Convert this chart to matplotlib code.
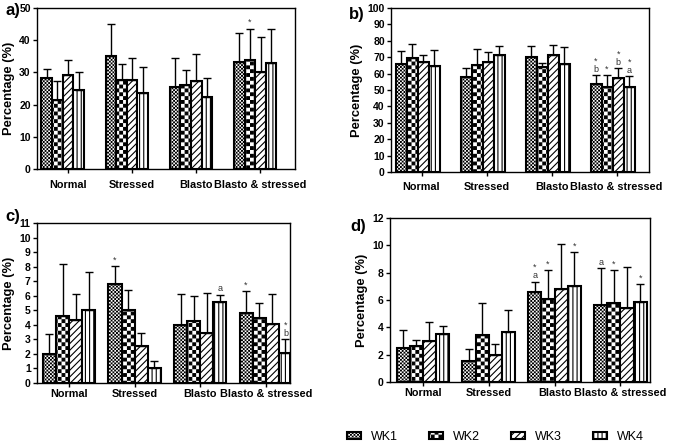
import numpy as np
import matplotlib
matplotlib.use('Agg')
import matplotlib.pyplot as plt
import matplotlib.hatch as mhatch
from matplotlib.path import Path

plt.rcParams['font.family'] = ['Liberation Sans', 'DejaVu Sans']
plt.rcParams['hatch.linewidth'] = 0.8

groups = ['Normal', 'Stressed', 'Blasto', 'Blasto & stressed']
weeks = ['WK1', 'WK2', 'WK3', 'WK4']
hatches = ['.', 'O', '/////', '||||']

# means / SD per group (rows) and week (cols)
a_mean = [[28.2, 21.5, 29.3, 24.6], [35.2, 27.7, 27.7, 23.5], [25.5, 26.2, 27.2, 22.3], [33.2, 34.0, 30.0, 32.9]]
a_sd = [[2.8, 5.7, 4.4, 5.6], [9.9, 4.9, 6.9, 8.3], [9.1, 4.4, 8.5, 6.1], [8.9, 9.6, 10.9, 10.7]]
a_marks = [['', '', '', ''], ['', '', '', ''], ['', '', '', ''], ['', '*', '', '']]

b_mean = [[65.9, 69.8, 67.1, 64.7], [58.2, 65.3, 67.1, 71.2], [70.0, 64.3, 71.4, 65.7], [53.7, 51.6, 57.1, 51.6]]
b_sd = [[8.0, 8.2, 4.3, 9.8], [5.5, 9.6, 5.8, 5.9], [6.9, 2.4, 6.1, 10.4], [5.5, 7.6, 6.2, 7.0]]
b_marks = [['', '', '', ''], ['', '', '', ''], ['', '', '', ''], ['*\nb', '*', '*\nb', '*\na']]

c_mean = [[2.0, 4.63, 4.3, 5.0], [6.8, 5.0, 2.53, 1.03], [4.0, 4.25, 3.45, 5.55], [4.8, 4.5, 4.06, 2.03]]
c_sd = [[1.4, 3.57, 1.8, 2.6], [1.26, 1.4, 0.94, 0.47], [2.1, 1.75, 2.75, 0.52], [1.5, 1.0, 2.04, 0.97]]
c_marks = [['', '', '', ''], ['*', '', '', ''], ['', '', '', 'a'], ['*', '', '', '*\nb']]

d_mean = [[2.5, 2.6, 3.0, 3.5], [1.52, 3.43, 2.0, 3.63], [6.62, 6.06, 6.82, 7.04], [5.62, 5.81, 5.4, 5.88]]
d_sd = [[1.3, 0.46, 1.36, 0.6], [0.93, 2.37, 0.75, 1.67], [0.73, 2.15, 3.28, 2.47], [2.69, 2.4, 2.98, 1.28]]
d_marks = [['', '', '', ''], ['', '', '', ''], ['*\na', '*', '', '*'], ['a', '*', '', '*']]


# checkerboard hatches ('.' fine, 'O' coarse) in place of the dotted/circle ones
class Checker(mhatch.HatchPatternBase):
    cells = {'.': 56, 'O': 26}

    def __init__(self, hatch, density):
        self.n = 0
        for ch, n in self.cells.items():
            if ch in hatch:
                self.n = n
        self.num_vertices = 5 * (self.n * self.n // 2)

    def set_vertices_and_codes(self, vertices, codes):
        s = 1.0 / self.n
        inset = min(0.5 * plt.rcParams['hatch.linewidth'] / 72, 0.3 * s)
        k = 0
        for i in range(self.n):
            for j in range(self.n):
                if (i + j) % 2:
                    continue
                x0, y0 = i * s + inset, j * s + inset
                x1, y1 = (i + 1) * s - inset, (j + 1) * s - inset
                vertices[k:k + 5] = [(x0, y0), (x1, y0), (x1, y1), (x0, y1), (x0, y0)]
                codes[k:k + 5] = [Path.MOVETO, Path.LINETO, Path.LINETO, Path.LINETO, Path.CLOSEPOLY]
                k += 5


if hasattr(mhatch, '_hatch_types'):
    mhatch._hatch_types = [t for t in mhatch._hatch_types
                           if t not in (mhatch.LargeCircles, mhatch.SmallFilledCircles)] + [Checker]
else:
    hatches = ['xxxx', '++', '/////', '||||']

fig = plt.figure(figsize=(6.86, 4.46), dpi=100)
W, H = 686, 446

panels = [
    # label, mean, sd, marks, (left, top, right, bottom) px, ymax, ystep, bar width, xlim, label offset, pad, panel label pos
    ('a)', a_mean, a_sd, a_marks, (37, 8, 295, 169), 50, 10, 0.165, (-0.40, 3.62), 0.08, 5, (5, 11)),
    ('b)', b_mean, b_sd, b_marks, (391, 8, 649, 172), 100, 10, 0.17, (-0.41, 3.56), 0.06, 4, (349, 14)),
    ('c)', c_mean, c_sd, c_marks, (37, 223, 290, 383), 11, 1, 0.2, (-0.49, 3.37), 0.0, 1.5, (5, 217)),
    ('d)', d_mean, d_sd, d_marks, (390, 218, 650, 382), 12, 2, 0.2, (-0.50, 3.45), 0.0, 1.5, (350, 226)),
]

handles = None
for lab, mean, sd, marks, box, ymax, ystep, bw, xl, loff, pad, lpos in panels:
    l, t, r, b = box
    ax = fig.add_axes([l / W, 1 - b / H, (r - l) / W, (b - t) / H])
    mean = np.array(mean)
    sd = np.array(sd)
    x = np.arange(len(groups))
    bars = []
    for k in range(len(weeks)):
        xs = x + (k - 1.5) * bw
        bc = ax.bar(xs, mean[:, k], bw, color='white', edgecolor='black',
                    linewidth=1.5, hatch=hatches[k], zorder=2, label=weeks[k])
        bars.append(bc)
        ax.errorbar(xs, mean[:, k], yerr=[np.zeros(len(groups)), sd[:, k]], fmt='none',
                    ecolor='black', elinewidth=1, capsize=3, capthick=1, zorder=3)
        for g in range(len(groups)):
            if marks[g][k]:
                ax.annotate(marks[g][k], (xs[g], mean[g, k] + sd[g, k]), xytext=(0, 1),
                            textcoords='offset points', ha='center', va='bottom',
                            fontsize=6.5, color='#333333', linespacing=0.85)
    if handles is None:
        handles = bars
    ax.set_xlim(*xl)
    ax.set_ylim(0, ymax)
    ax.set_yticks(np.arange(0, ymax + 0.01, ystep))
    ax.set_xticks(x + loff)
    ax.set_xticklabels(groups, fontsize=7.8, fontweight='bold')
    ax.tick_params(axis='x', length=3, width=1, pad=pad)
    ax.tick_params(axis='y', length=3, width=1, pad=1.5, labelsize=7.5)
    for tl in ax.get_yticklabels():
        tl.set_fontweight('bold')
    ax.set_ylabel('Percentage (%)', fontsize=9.3, fontweight='bold', labelpad=3)
    for s in ax.spines.values():
        s.set_linewidth(1)
    fig.text(lpos[0] / W, 1 - lpos[1] / H, lab, fontsize=12, fontweight='bold',
             ha='left', va='center')

fig.legend(handles, weeks, loc='center left', bbox_to_anchor=(347 / W, 1 - 437 / H),
           ncol=4, frameon=False, fontsize=9, handlelength=1.1, handleheight=0.55,
           handletextpad=0.8, columnspacing=2.5, borderaxespad=0, borderpad=0)

fig.savefig('out.png', dpi=100)
